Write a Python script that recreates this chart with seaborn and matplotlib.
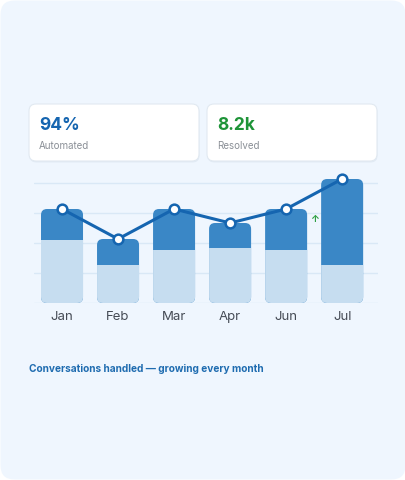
import numpy as np
import pandas as pd
import seaborn as sns
import matplotlib.pyplot as plt
from matplotlib.patches import FancyBboxPatch

# data
months = ['Jan', 'Feb', 'Mar', 'Apr', 'Jun', 'Jul']
total = [940, 640, 940, 800, 940, 1240]
base = [630, 380, 530, 550, 530, 380]
grid_vals = [0, 300, 600, 900, 1200]
kpi_values = ['94%', '8.2k']
kpi_labels = ['Automated', 'Resolved']
caption = 'Conversations handled \u2014 growing every month'

df = pd.DataFrame({'month': months, 'total': total, 'base': base})

sns.set_theme(style='white')
plt.rcParams['font.family'] = ['Inter', 'DejaVu Sans']

W, H = 406, 480
fig = plt.figure(figsize=(W / 100, H / 100), dpi=100)
fig.patch.set_facecolor('white')

# background layer in pixel coords
bg = fig.add_axes([0, 0, 1, 1], zorder=0)
bg.set_xlim(0, W)
bg.set_ylim(H, 0)
bg.axis('off')
bg.add_patch(FancyBboxPatch((0.5, 0.5), W - 1, H - 1, boxstyle='round,pad=0,rounding_size=14',
                            fc='#eff6fe', ec='none'))

# kpi cards
card_x = [29, 207]
kpi_colors = ['#1565b0', '#1e9438']
for cx, val, lab, col in zip(card_x, kpi_values, kpi_labels, kpi_colors):
    bg.add_patch(FancyBboxPatch((cx + 0.5, 105.5), 170, 57, boxstyle='round,pad=0,rounding_size=7',
                                fc='#d9e4ef', ec='none', alpha=0.6))
    bg.add_patch(FancyBboxPatch((cx, 104), 170, 57, boxstyle='round,pad=0,rounding_size=7',
                                fc='white', ec='#e1e9f1', lw=0.8))
    bg.text(cx + 10, 126, val, fontsize=12.5, fontweight='bold', color=col, va='center', ha='left')
    bg.text(cx + 10, 146, lab, fontsize=7, color='#8a8f96', va='center', ha='left')

bg.text(314, 219, '\u2191', fontsize=7, fontweight='bold', color='#2ea043', ha='center', va='center')
bg.text(29, 369, caption, fontsize=7.3, fontweight='bold', color='#1f6cb0', ha='left', va='center')

# chart axes
x0, x1, yb, yt = 34, 378, 303, 175
xmin, xmax, ymax = -0.5, 5.64, 1280
ax = fig.add_axes([x0 / W, (H - yb) / H, (x1 - x0) / W, (yb - yt) / H], zorder=1)
ax.patch.set_alpha(0)

dark = '#3a87c6'
light = '#c6ddf0'
line_c = '#1565b0'

for g in grid_vals:
    ax.axhline(g, color='#d9e8f6', lw=1, zorder=0)

sns.barplot(data=df, x='month', y='total', color=dark, saturation=1, width=0.75, ax=ax, zorder=2)

# aspect: data units per pixel in y vs x
ux = (xmax - xmin) / (x1 - x0)
uy = ymax / (yb - yt)
r = 6 * ux
rounded = []
for p in list(ax.patches):
    x, y, w, h = p.get_x(), p.get_y(), p.get_width(), p.get_height()
    p.remove()
    fb = FancyBboxPatch((x, y), w, h, boxstyle=f'round,pad=0,rounding_size={r}',
                        mutation_aspect=uy / ux, fc=dark, ec='none', zorder=2)
    ax.add_patch(fb)
    rounded.append(fb)

n_before = len(ax.patches)
sns.barplot(data=df, x='month', y='base', color=light, saturation=1, width=0.75, ax=ax, zorder=3)
for p, clip in zip(ax.patches[n_before:], rounded):
    p.set_clip_path(clip)
    p.set_edgecolor('none')

sns.lineplot(data=df, x='month', y='total', sort=False, color=line_c, lw=2.2, marker='o',
             markersize=7, markerfacecolor='white', markeredgecolor=line_c, markeredgewidth=1.8,
             ax=ax, zorder=4, clip_on=False)

ax.set_xlim(xmin, xmax)
ax.set_ylim(0, ymax)
ax.set_xlabel('')
ax.set_ylabel('')
ax.set_yticks([])
ax.tick_params(axis='x', length=0, pad=6, labelsize=9.5, labelcolor='#454b55')
sns.despine(ax=ax, left=True, bottom=True)

fig.savefig('out.png', dpi=100)
